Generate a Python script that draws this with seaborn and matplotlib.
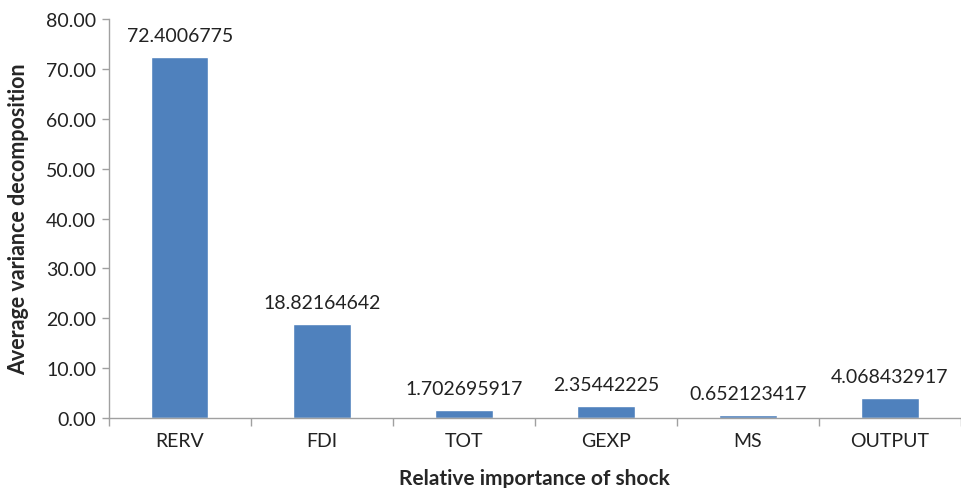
import numpy as np
import matplotlib
matplotlib.use("Agg")
import matplotlib.pyplot as plt
import pandas as pd
import seaborn as sns

# shock categories and their average variance decomposition
shocks = ["RERV", "FDI", "TOT", "GEXP", "MS", "OUTPUT"]
values = [72.4006775, 18.82164642, 1.702695917, 2.35442225, 0.652123417, 4.068432917]
labels = ["72.4006775", "18.82164642", "1.702695917", "2.35442225", "0.652123417", "4.068432917"]

df = pd.DataFrame({"shock": shocks, "value": values})

sns.set_style("white")
plt.rcParams['font.family'] = ['Lato', 'DejaVu Sans']

fig = plt.figure(figsize=(9.62, 4.89), dpi=100)
ax = fig.add_axes([0.113, 0.143, 0.886, 0.816])

sns.barplot(data=df, x="shock", y="value", color="#4f81bd", width=0.405,
            saturation=1, ax=ax)

# value labels above bars
for i, (v, t) in enumerate(zip(values, labels)):
    ax.text(i, v + 2.6, t, ha="center", va="bottom", fontsize=14, color="#222222")

ax.set_ylim(0, 80)
ax.set_xlim(-0.5, len(shocks) - 0.5)
ax.set_yticks(np.arange(0, 81, 10))
ax.set_yticklabels(["%.2f" % t for t in np.arange(0, 81, 10)], fontsize=14, color="#222222")
ax.tick_params(axis="x", labelsize=14, colors="#222222", length=0, pad=10)
ax.tick_params(axis="y", length=5, width=1, color="#a0a0a0", direction="out", left=True, pad=4)

# category boundary tick marks
ax.set_xticks(np.arange(-0.5, len(shocks), 1), minor=True)
ax.tick_params(axis="x", which="minor", length=6, width=1, color="#a0a0a0", direction="out", bottom=True)

for s in ["top", "right"]:
    ax.spines[s].set_visible(False)
for s in ["left", "bottom"]:
    ax.spines[s].set_color("#a0a0a0")
    ax.spines[s].set_linewidth(1)

ax.set_xlabel("Relative importance of shock", fontsize=15, fontweight="bold", labelpad=14)
ax.set_ylabel("Average variance decomposition", fontsize=15.5, fontweight="bold", labelpad=12)

fig.savefig("out.png", dpi=100)
plt.close()
